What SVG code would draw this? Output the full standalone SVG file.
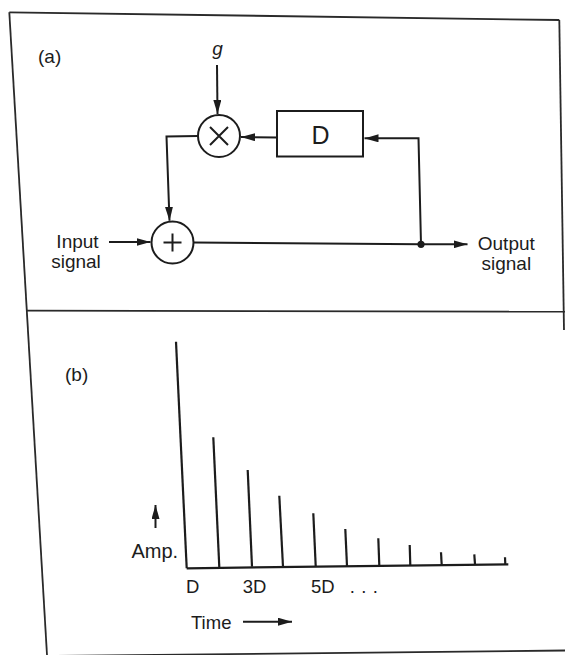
<svg xmlns="http://www.w3.org/2000/svg" width="565" height="655" viewBox="0 0 565 655">
<defs>
<style>
.ln{fill:none;stroke:#1c1c1c;stroke-width:2;stroke-linejoin:miter}
.fr{fill:none;stroke:#2a2a2a;stroke-width:1.8}
.st{fill:none;stroke:#1c1c1c;stroke-width:2.2}
.nd{fill:#fff;stroke:#1c1c1c;stroke-width:2}
.tx{font-family:"Liberation Sans",Arial,Helvetica,sans-serif;fill:#1c1c1c}
.ar{marker-end:url(#ah)}
</style>
<marker id="ah" viewBox="0 0 14 8" refX="14" refY="4" markerWidth="14" markerHeight="8" markerUnits="userSpaceOnUse" orient="auto">
<path d="M0,0 L14,4 L0,8 z" fill="#1c1c1c"/>
</marker>
</defs>
<rect width="565" height="655" fill="#fff"/>
<g id="frame">
<line class="fr" x1="9.3" y1="12.3" x2="559.3" y2="20"/>
<line class="fr" x1="9.3" y1="12.3" x2="47" y2="655"/>
<line class="fr" x1="559.3" y1="20" x2="564" y2="330"/>
<line class="fr" x1="26.7" y1="310.7" x2="565" y2="311.7"/>
<line class="fr" x1="47" y1="656" x2="565" y2="650.5"/>
</g>
<g id="label-a"><text class="tx" x="38" y="62.7" font-size="19">(a)</text></g>
<g id="label-b"><text class="tx" x="65" y="380.5" font-size="19">(b)</text></g>
<g id="gain"><text class="tx" x="217.5" y="54.5" font-size="19" font-style="italic" text-anchor="middle">g</text></g>
<g id="multiplier">
<circle class="nd" cx="219" cy="136" r="21"/>
<path class="ln" d="M210,127 L228,145 M228,127 L210,145"/>
</g>
<g id="delay">
<rect class="nd" x="277" y="111" width="86" height="45.5"/>
<text class="tx" x="320.5" y="144" font-size="25" text-anchor="middle">D</text>
</g>
<g id="adder">
<circle class="nd" cx="172.5" cy="242.5" r="21"/>
<path class="ln" d="M163.5,242.5 L181.5,242.5 M172.5,233.5 L172.5,251.5"/>
</g>
<g id="input">
<text class="tx" font-size="19" text-anchor="middle"><tspan x="77.5" y="247.5">Input</tspan><tspan x="76" y="267.5">signal</tspan></text>
</g>
<g id="output">
<text class="tx" font-size="19" text-anchor="middle"><tspan x="506.3" y="249.5">Output</tspan><tspan x="506.3" y="269.5">signal</tspan></text>
</g>
<g id="connectors">
<line class="ln ar" x1="217" y1="65" x2="217.5" y2="114"/>
<line class="ln ar" x1="277" y1="137.5" x2="241" y2="137"/>
<polyline class="ln ar" points="421,244.3 418.5,138.3 364.5,138.3"/>
<polyline class="ln ar" points="198,136 166.5,136.5 169.5,220.7"/>
<line class="ln ar" x1="109" y1="242" x2="150.5" y2="242"/>
<line class="ln" x1="194" y1="242.5" x2="421" y2="244.3"/>
<line class="ln ar" x1="421" y1="244.3" x2="467.5" y2="244.3"/>
<circle cx="421" cy="244.3" r="3.6" fill="#1c1c1c"/>
</g>
<g id="impulse-plot">
<line class="st" x1="186.7" y1="568.3" x2="508.3" y2="564.3"/>
<line class="st" x1="176" y1="341.7" x2="186.7" y2="568.3"/>
<line class="st" x1="213.3" y1="437.3" x2="219.3" y2="567.3"/>
<line class="st" x1="247.7" y1="470" x2="252" y2="566.7"/>
<line class="st" x1="279.3" y1="495.7" x2="283" y2="566.7"/>
<line class="st" x1="313.3" y1="513.3" x2="315.7" y2="566"/>
<line class="st" x1="345.3" y1="529" x2="347" y2="566"/>
<line class="st" x1="378.3" y1="538.3" x2="379.3" y2="565.7"/>
<line class="st" x1="409.7" y1="545" x2="410.3" y2="565.3"/>
<line class="st" x1="441" y1="552.3" x2="441.7" y2="565"/>
<line class="st" x1="474.3" y1="554.3" x2="475" y2="564.3"/>
<line class="st" x1="505" y1="557.3" x2="505.3" y2="564.3"/>
</g>
<g id="axis-labels">
<line class="ln ar" x1="155.5" y1="528" x2="155.5" y2="505"/>
<text class="tx" x="131.5" y="558.3" font-size="20">Amp.</text>
<text class="tx" x="186" y="593.3" font-size="18.5">D</text>
<text class="tx" x="242.7" y="593.3" font-size="18.5">3D</text>
<text class="tx" x="311" y="593.3" font-size="18.5">5D<tspan x="344" letter-spacing="0.6"> . . .</tspan></text>
<text class="tx" x="191" y="629" font-size="18.5">Time</text>
<line class="ln ar" x1="243" y1="621.7" x2="292" y2="621.7"/>
</g>
</svg>
